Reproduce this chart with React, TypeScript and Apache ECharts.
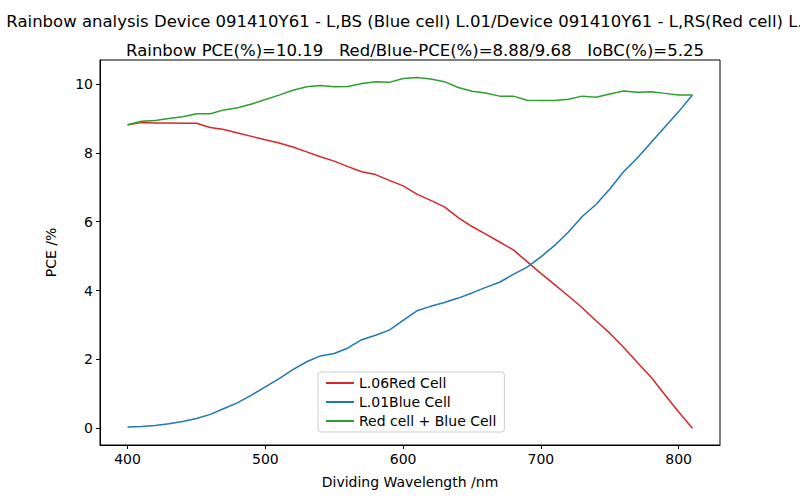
import React, { useEffect, useRef } from 'react';
import * as echarts from 'echarts';

const wavelengths = [400, 410, 420, 430, 440, 450, 460, 470, 480, 490, 500, 510, 520, 530, 540, 550, 560, 570, 580, 590, 600, 610, 620, 630, 640, 650, 660, 670, 680, 690, 700, 710, 720, 730, 740, 750, 760, 770, 780, 790, 800, 810];
const redCell = [8.82, 8.88, 8.87, 8.87, 8.86, 8.86, 8.74, 8.68, 8.58, 8.48, 8.38, 8.29, 8.17, 8.03, 7.89, 7.76, 7.6, 7.45, 7.37, 7.2, 7.04, 6.8, 6.62, 6.43, 6.12, 5.86, 5.64, 5.41, 5.18, 4.84, 4.5, 4.17, 3.84, 3.5, 3.12, 2.76, 2.35, 1.91, 1.48, 0.97, 0.47, 0];
const blueCell = [0.03, 0.05, 0.08, 0.13, 0.19, 0.28, 0.4, 0.57, 0.74, 0.96, 1.2, 1.44, 1.7, 1.93, 2.1, 2.17, 2.33, 2.57, 2.7, 2.85, 3.13, 3.41, 3.54, 3.65, 3.78, 3.93, 4.09, 4.24, 4.47, 4.68, 4.98, 5.31, 5.7, 6.15, 6.5, 6.95, 7.45, 7.85, 8.3, 8.75, 9.2, 9.68];
const sumCell = [8.82, 8.92, 8.94, 9.0, 9.05, 9.14, 9.14, 9.25, 9.31, 9.42, 9.55, 9.68, 9.82, 9.92, 9.96, 9.92, 9.93, 10.02, 10.07, 10.05, 10.16, 10.19, 10.15, 10.07, 9.9, 9.79, 9.74, 9.65, 9.65, 9.53, 9.52, 9.52, 9.56, 9.65, 9.62, 9.71, 9.8, 9.76, 9.78, 9.73, 9.68, 9.68];
const xTicks = [400, 500, 600, 700, 800];
const yTicks = [0, 2, 4, 6, 8, 10];

const font = 'DejaVu Sans';

const App: React.FC = () => {
  const ref = useRef<HTMLDivElement>(null);

  useEffect(() => {
    if (!ref.current) return;
    const chart = echarts.init(ref.current, undefined, { renderer: 'svg' });
    const pair = (ys: number[]) => wavelengths.map((w, i) => [w, ys[i]]);
    chart.setOption({
      animation: false,
      backgroundColor: '#fff',
      textStyle: { fontFamily: font },
      title: [
        {
          text: 'Rainbow analysis Device 091410Y61 - L,BS (Blue cell) L.01/Device 091410Y61 - L,RS(Red cell) L.06',
          left: 410, textAlign: 'center', top: 8,
          textStyle: { fontSize: 16.5, fontWeight: 'normal', color: '#000', fontFamily: font },
        },
        {
          text: 'Rainbow PCE(%)=10.19   Red/Blue-PCE(%)=8.88/9.68   IoBC(%)=5.25',
          left: 410, textAlign: 'center', top: 37,
          textStyle: { fontSize: 16.5, fontWeight: 'normal', color: '#000', fontFamily: font },
        },
      ],
      grid: { left: 100, right: 80, top: 60, bottom: 55, show: true, borderColor: '#000', borderWidth: 1 },
      xAxis: {
        type: 'value', min: 380, max: 830,
        name: 'Dividing Wavelength /nm', nameLocation: 'middle', nameGap: 30,
        nameTextStyle: { fontSize: 14, color: '#000' },
        axisLine: { show: true, onZero: false, lineStyle: { color: '#000' } },
        axisTick: { show: true, length: 4, customValues: xTicks, lineStyle: { color: '#000' } },
        axisLabel: { customValues: xTicks, color: '#000', fontSize: 14, margin: 7 },
        splitLine: { show: false },
      },
      yAxis: {
        type: 'value', min: -0.49, max: 10.7,
        name: 'PCE /%', nameLocation: 'middle', nameGap: 42,
        nameTextStyle: { fontSize: 14, color: '#000' },
        axisLine: { show: true, onZero: false, lineStyle: { color: '#000' } },
        axisTick: { show: true, length: 4, customValues: yTicks, lineStyle: { color: '#000' } },
        axisLabel: { customValues: yTicks, color: '#000', fontSize: 14, margin: 7 },
        splitLine: { show: false },
      },
      legend: {
        orient: 'vertical', left: 318, top: 372,
        backgroundColor: '#fff', borderColor: '#ccc', borderWidth: 1, borderRadius: 3,
        padding: [4, 8, 4, 8], itemGap: 5, itemWidth: 28, itemHeight: 2, icon: 'rect',
        textStyle: { fontSize: 14, color: '#000' },
        data: ['L.06Red Cell', 'L.01Blue Cell', 'Red cell + Blue Cell'],
      },
      series: [
        { name: 'L.06Red Cell', type: 'line', data: pair(redCell), showSymbol: false, color: '#d62728', lineStyle: { width: 1.5 } },
        { name: 'L.01Blue Cell', type: 'line', data: pair(blueCell), showSymbol: false, color: '#1f77b4', lineStyle: { width: 1.5 } },
        { name: 'Red cell + Blue Cell', type: 'line', data: pair(sumCell), showSymbol: false, color: '#2ca02c', lineStyle: { width: 1.5 } },
      ],
    });
    return () => chart.dispose();
  }, []);

  return <div ref={ref} style={{ width: 800, height: 500, position: 'absolute', left: 0, top: 0 }} />;
};

export default App;
